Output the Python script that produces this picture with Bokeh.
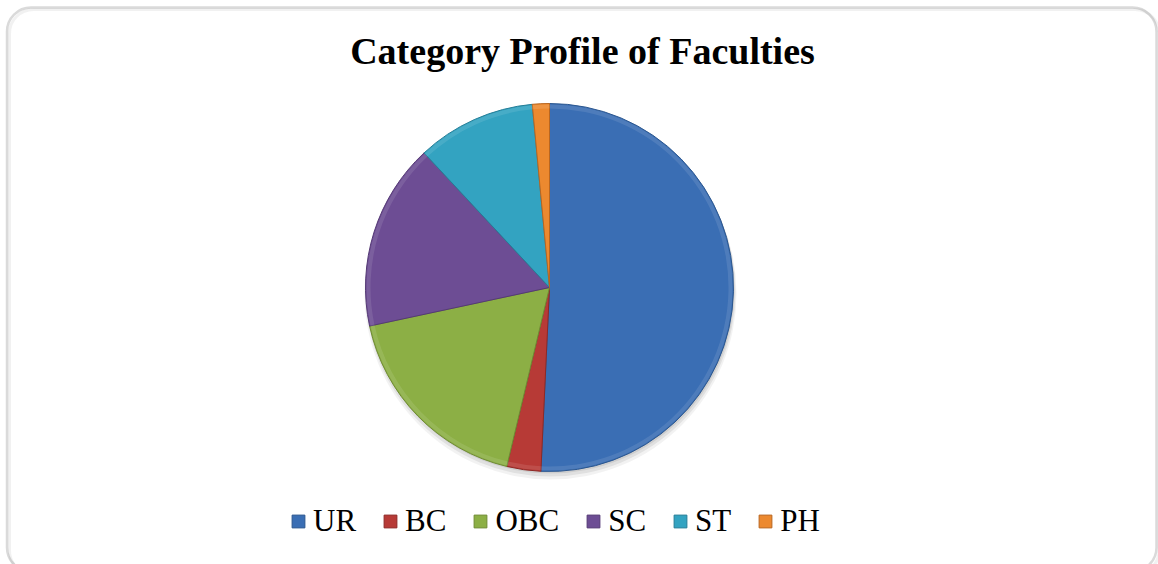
import math
from bokeh.plotting import figure
from bokeh.models import ColumnDataSource, Range1d, Legend, LegendItem, Label, BoxAnnotation
from bokeh.embed import file_html
from bokeh.resources import INLINE

# ---- data ----
categories = ["UR", "BC", "OBC", "SC", "ST", "PH"]
counts = [34, 2, 12, 11, 7, 1]
title_text = "Category Profile of Faculties"

# ---- styles ----
fill_colors = ["#3A6EB4", "#B73A36", "#8CAF45", "#6D4D94", "#33A3C1", "#EC892F"]
edge_colors = ["#2C578F", "#8E2926", "#6F8B33", "#553A75", "#267E97", "#B96620"]

W, H = 1158, 564
CX, CY, R = 549, 277, 184

total = sum(counts)
starts, ends = [], []
acc = 0.0
for c in counts:
    a0 = acc / total * 2 * math.pi
    acc += c
    a1 = acc / total * 2 * math.pi
    starts.append(math.pi / 2 - a0)
    ends.append(math.pi / 2 - a1)

src = ColumnDataSource(dict(cat=categories, val=counts, start=starts, end=ends,
                            fill=fill_colors, edge=edge_colors))

p = figure(width=W, height=H, output_backend="svg", toolbar_location=None,
           x_range=Range1d(0, W), y_range=Range1d(0, H), min_border=0)
p.axis.visible = False
p.grid.visible = False
p.outline_line_color = None
p.background_fill_color = "white"
p.border_fill_color = "white"

# frame with rounded corners (shadow + border)
p.add_layout(BoxAnnotation(left=9, right=1158.5, top=555, bottom=-10, border_radius=24,
                           fill_color=None, line_color="#d0d0d0", line_width=3))
p.add_layout(BoxAnnotation(left=6.5, right=1156, top=557, bottom=-7, border_radius=24,
                           fill_color=None, line_color="#858585", line_width=2.5))

# soft shadow under the pie
for off, rad, alpha in [(6, R + 2, 0.05), (4, R + 1, 0.07), (2, R, 0.08)]:
    p.circle(x=[CX + 1], y=[CY - off], radius=rad, fill_color="black", fill_alpha=alpha,
             line_color=None)

r = p.wedge(x=CX, y=CY, radius=R, start_angle="start", end_angle="end",
            direction="clock", fill_color="fill", line_color="edge", line_width=1,
            source=src)

# bevel highlight along the rim
p.annular_wedge(x=CX, y=CY, inner_radius=R - 5, outer_radius=R - 1,
                start_angle="start", end_angle="end", direction="clock",
                fill_color="white", fill_alpha=0.10, line_color=None, source=src)

p.add_layout(Label(x=582, y=514, text=title_text, text_font="Liberation Serif",
                   text_font_size="38px", text_font_style="bold", text_align="center",
                   text_baseline="alphabetic", text_color="black"))

items = [LegendItem(label=c, renderers=[r], index=i) for i, c in enumerate(categories)]
legend = Legend(items=items, orientation="horizontal", location=(290, 25),
                label_text_font="Liberation Serif", label_text_font_size="31px",
                label_text_color="black", glyph_width=16, glyph_height=16,
                label_standoff=7, spacing=26, padding=0, margin=0,
                border_line_color=None, background_fill_alpha=0)
p.add_layout(legend, "center")

open("out.html", "w").write(file_html(p, INLINE))
